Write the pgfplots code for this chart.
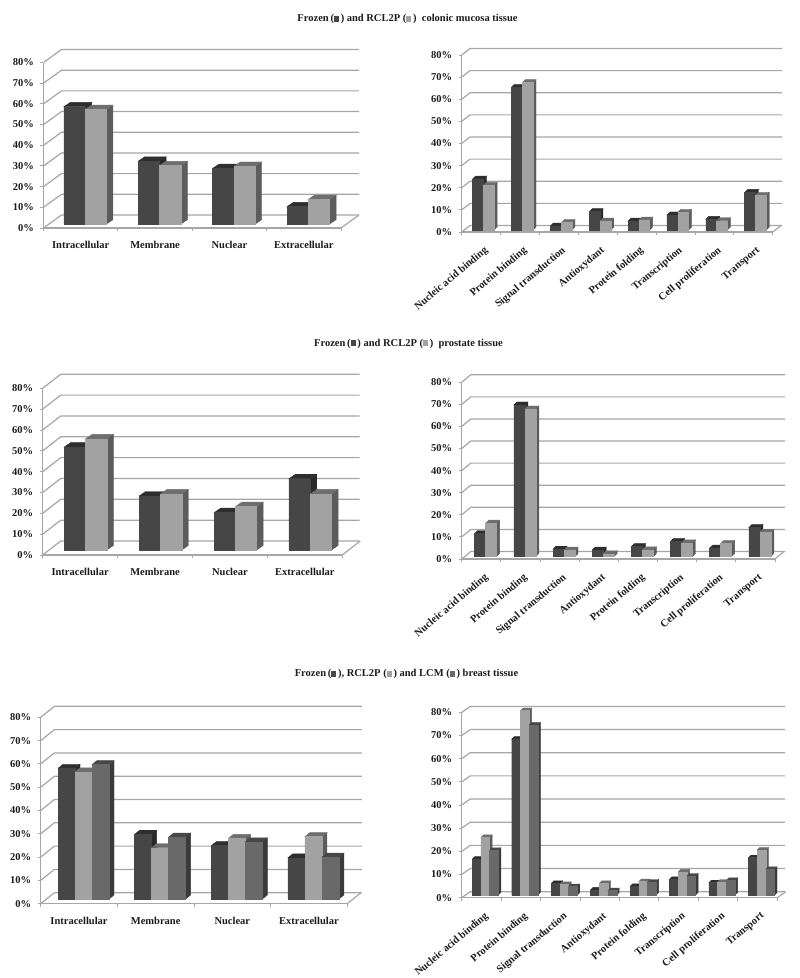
\documentclass[border=0pt]{standalone}
\usepackage{fontspec}
\setmainfont{Liberation Serif}
\usepackage{pgfplots}
\usepackage{pgfplotstable}
\pgfplotsset{compat=1.18}
\definecolor{fA}{HTML}{464646}\definecolor{tA}{HTML}{2E2E2E}\definecolor{sA}{HTML}{2A2A2A}
\definecolor{fB}{HTML}{A2A2A2}\definecolor{tB}{HTML}{6E6E6E}\definecolor{sB}{HTML}{5C5C5C}
\definecolor{fC}{HTML}{696969}\definecolor{tC}{HTML}{474747}\definecolor{sC}{HTML}{3A3A3A}
\definecolor{gl}{HTML}{A6A6A6}
\definecolor{txt}{HTML}{1C1C1C}

\pgfplotstableread{
x a b
0.5 56.7 55.4
1.5 30.4 28.2
2.5 26.9 27.9
3.5 8.4 11.9
}\tblA
\pgfplotstableread{
x a b
0.5 23.0 20.2
1.5 64.5 66.6
2.5 1.8 3.3
3.5 8.3 4.0
4.5 4.0 4.5
5.5 6.8 8.0
6.5 4.8 4.2
7.5 17.0 15.7
}\tblB
\pgfplotstableread{
x a b
0.5 49.4 53.3
1.5 25.9 26.9
2.5 17.9 20.8
3.5 34.2 26.9
}\tblC
\pgfplotstableread{
x a b
0.5 10.4 15.1
1.5 68.6 66.8
2.5 3.3 2.9
3.5 2.9 1.2
4.5 4.5 3.0
5.5 6.8 6.2
6.5 3.8 5.9
7.5 13.1 11.0
}\tblD
\pgfplotstableread{
x a b c
0.5 56.1 54.6 57.7
1.5 27.8 22.0 26.6
2.5 22.9 26.0 24.5
3.5 17.7 26.8 18.0
}\tblE
\pgfplotstableread{
x a b c
0.5 15.5 24.9 19.3
1.5 67.3 79.6 73.4
2.5 5.0 4.6 3.6
3.5 2.2 5.0 1.9
4.5 3.7 5.8 5.6
5.5 6.8 10.0 8.2
6.5 5.3 5.6 6.3
7.5 16.1 19.4 11.1
}\tblF

\pgfdeclareplotmark{nil}{}
\newcommand\facesdraw[4]{%
  \pgfmathsetmacro\hgt{\barv*\ys}%
  \pgfmathsetmacro\xl{#4-\bw/2}%
  \pgfmathsetmacro\xr{#4+\bw/2}%
  \fill[#3] (\xr pt,\by pt) -- ++(\sx pt,\sy pt) -- ++(0pt,-\hgt pt) -- ++(-\sx pt,-\sy pt) -- cycle;
  \fill[#2] (\xl pt,\by pt) -- (\xr pt,\by pt) -- ++(\sx pt,\sy pt) -- ++(-\bw pt,0pt) -- cycle;
  \fill[#1] (\xl pt,\by pt) rectangle ++(\bw pt,-\hgt pt);
}
\newcommand\barseries[6]{%
  \addplot[ybar,bar width=\bw pt,bar shift=#6 pt,fill=#3,draw=none,yshift=\by pt] table[x=x,y=#2]{#1};
  \addplot[scatter,only marks,mark=nil,scatter src=y,
    visualization depends on=rawy\as\barv,
    scatter/@pre marker code/.code={\facesdraw{#3}{#4}{#5}{#6}},
    scatter/@post marker code/.code={}] table[x=x,y=#2]{#1};
}
\newcommand\walls{%
  \pgfplotsinvokeforeach{0,10,...,80}{%
    \draw[gl,line width=1.2pt] (axis cs:0,##1) -- ++(\dxw pt,\dyw pt) -- ++(\wallw pt,0pt);
  }
  \draw[gl,line width=1.2pt] (axis cs:\nc,0) -- ++(\dxw pt,\dyw pt);
}
\newcommand\setgeom[8]{%
  \def\wallw{#1}\def\ys{#2}\def\dxw{#3}\def\dyw{#4}\def\bw{#5}\def\by{#6}\def\sx{#7}\def\sy{#8}}

\pgfplotsset{
  chart/.style={
    scale only axis,clip=false,anchor=south west,
    ymin=0,ymax=80,ytick={0,10,...,80},
    yticklabels={0\%,10\%,20\%,30\%,40\%,50\%,60\%,70\%,80\%},
    axis x line*=bottom,axis y line*=left,
    axis line style={gl,line width=1.2pt,-},
    tick style={gl,line width=0.9pt},
    major tick length=3pt,
    tick align=outside,
    ticklabel style={font=\fontsize{10.5}{12}\selectfont\bfseries,text=txt},
    yticklabel style={xshift=-3pt},
    xticklabels={},
    extra x tick style={major tick length=0pt},
  },
  four/.style={chart,xmin=0,xmax=4,xtick={0,1,2,3,4},
    extra x ticks={0.5,1.5,2.5,3.5},
    extra x tick labels={Intracellular,Membrane,Nuclear,Extracellular},
    extra x tick style={xticklabel style={yshift=-10pt}},
  },
  eight/.style={chart,xmin=0,xmax=8,xtick={0,...,8},
    extra x ticks={0.5,1.5,2.5,3.5,4.5,5.5,6.5,7.5},
    extra x tick labels={Nucleic acid binding,Protein binding,Signal transduction,Antioxydant,Protein folding,Transcription,Cell proliferation,Transport},
    extra x tick style={xticklabel style={rotate=40,anchor=north east,xshift=-3.5pt,yshift=-8.5pt}},
  },
}
\newcommand\sw[1]{\textcolor{#1}{\rule{5pt}{6pt}}}

\begin{document}
\begin{tikzpicture}[x=1pt,y=1pt]
\useasboundingbox (0pt,0pt) rectangle (800pt,978pt);
\tikzset{ttl/.style={font=\fontsize{10.5}{12}\selectfont\bfseries,text=txt,inner sep=0pt}}
\node[ttl] at (407.5pt,959pt) {Frozen\,(\sw{fA}\,) and RCL2P (\sw{fB}\,)\ \ colonic mucosa tissue};
\node[ttl] at (408.5pt,634.5pt) {Frozen\,(\sw{fA}\,) and RCL2P (\sw{fB}\,)\ \ prostate tissue};
\node[ttl] at (406.5pt,304pt) {Frozen\,(\sw{fA}\,), RCL2P (\sw{fB}\,) and LCM (\sw{fC}\,) breast tissue};

% A
\setgeom{297.5}{2.069}{18}{13}{21.3}{4}{6.5}{4.3}\def\nc{4}
\pgfmathsetmacro\sa{4.5-\bw/2}\pgfmathsetmacro\sb{4.5+\bw/2}
\begin{axis}[four,at={(43.5pt,750pt)},width=297.5pt,height=165.5pt]
\walls
\barseries{\tblA}{a}{fA}{tA}{sA}{\sa}
\barseries{\tblA}{b}{fB}{tB}{sB}{\sb}
\end{axis}
% B
\setgeom{312}{2.2125}{8.3}{6.5}{10.8}{2}{3}{3}\def\nc{8}
\pgfmathsetmacro\sa{2.2-\bw/2}\pgfmathsetmacro\sb{2.2+\bw/2}
\begin{axis}[eight,at={(461.7pt,746pt)},width=311pt,height=177pt]
\walls
\barseries{\tblB}{a}{fA}{tA}{sA}{\sa}
\barseries{\tblB}{b}{fB}{tB}{sB}{\sb}
\end{axis}
% C
\setgeom{299}{2.084}{18}{14}{21.3}{5}{6.5}{4.5}\def\nc{4}
\pgfmathsetmacro\sa{5.4-\bw/2}\pgfmathsetmacro\sb{5.4+\bw/2}
\begin{axis}[four,at={(42.7pt,423pt)},width=299.6pt,height=166.7pt]
\walls
\barseries{\tblC}{a}{fA}{tA}{sA}{\sa}
\barseries{\tblC}{b}{fB}{tB}{sB}{\sb}
\end{axis}
% D
\setgeom{314.5}{2.208}{9}{7.5}{11}{2.5}{3}{3}\def\nc{8}
\pgfmathsetmacro\sa{4.4-\bw/2}\pgfmathsetmacro\sb{4.4+\bw/2}
\begin{axis}[eight,at={(461.7pt,419pt)},width=313.3pt,height=176.7pt]
\walls
\barseries{\tblD}{a}{fA}{tA}{sA}{\sa}
\barseries{\tblD}{b}{fB}{tB}{sB}{\sb}
\end{axis}
% E
\setgeom{307.4}{2.33}{13.7}{11}{17}{4.7}{5}{4}\def\nc{4}
\pgfmathsetmacro\sa{4.5-\bw}\pgfmathsetmacro\sb{4.5}\pgfmathsetmacro\sc{4.5+\bw}
\begin{axis}[four,at={(40.7pt,74.3pt)},width=306.6pt,height=186.4pt]
\walls
\barseries{\tblE}{a}{fA}{tA}{sA}{\sa}
\barseries{\tblE}{b}{fB}{tB}{sB}{\sb}
\barseries{\tblE}{c}{fC}{tC}{sC}{\sc}
\end{axis}
% F
\setgeom{315}{2.317}{8.5}{6}{8.7}{2.7}{2.5}{2.5}\def\nc{8}
\pgfmathsetmacro\sa{3.9-\bw}\pgfmathsetmacro\sb{3.9}\pgfmathsetmacro\sc{3.9+\bw}
\begin{axis}[eight,at={(461.7pt,80.3pt)},width=315.6pt,height=185.3pt]
\walls
\barseries{\tblF}{a}{fA}{tA}{sA}{\sa}
\barseries{\tblF}{b}{fB}{tB}{sB}{\sb}
\barseries{\tblF}{c}{fC}{tC}{sC}{\sc}
\end{axis}
\end{tikzpicture}
\end{document}
